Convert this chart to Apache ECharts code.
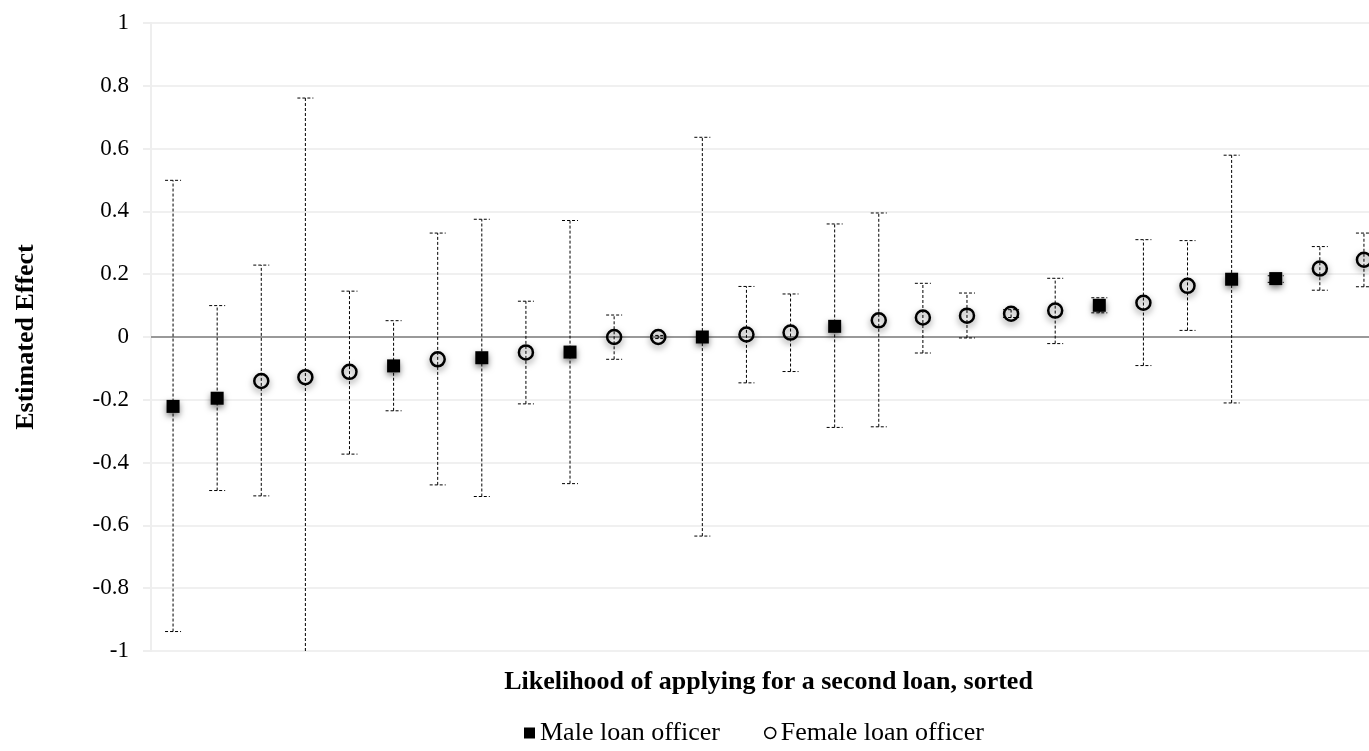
<!DOCTYPE html>
<html>
<head>
<meta charset="utf-8">
<script src="https://cdn.jsdelivr.net/npm/echarts@6/dist/echarts.min.js"></script>
<style>
  html, body { margin: 0; padding: 0; background: #fff; }
  #chart { width: 1369px; height: 751px; }
</style>
</head>
<body>
<div id="chart"></div>
<script>
// Estimated effect per loan officer, sorted by the likelihood of applying for a second loan
const officers = ['M','M','F','F','F','M','F','M','F','M','F','F','M','F','F','M','F','F','F','F','F','M','F','F','M','M','F','F'];
const estimate = [-0.221,-0.195,-0.140,-0.128,-0.111,-0.092,-0.071,-0.066,-0.049,-0.048,0.000,0.000,0.000,0.008,0.014,0.034,0.053,0.062,0.068,0.074,0.084,0.101,0.109,0.163,0.184,0.186,0.218,0.246];
const upper    = [0.499,0.100,0.229,0.761,0.146,0.052,0.331,0.375,0.114,0.371,0.070,0.005,0.636,0.161,0.137,0.360,0.395,0.171,0.140,0.087,0.187,0.125,0.310,0.307,0.579,0.195,0.288,0.331];
const lower    = [-0.938,-0.489,-0.506,-1.050,-0.373,-0.235,-0.471,-0.508,-0.213,-0.467,-0.071,-0.005,-0.634,-0.146,-0.110,-0.288,-0.286,-0.051,-0.003,0.062,-0.021,0.077,-0.091,0.021,-0.210,0.174,0.149,0.160];
const yTicks = { min: -1, max: 1, interval: 0.2 };

const categories = officers.map((_, i) => String(i + 1));
const maleData = [], femaleData = [], barData = [];
officers.forEach((o, i) => {
  if (o === 'M') maleData.push([i, estimate[i]]); else femaleData.push([i, estimate[i]]);
  barData.push([i, lower[i], upper[i]]);
});

const serif = '"Liberation Serif", "Times New Roman", serif';
const chart = echarts.init(document.getElementById('chart'), null, { renderer: 'canvas' });

const dashStyle = { stroke: '#000', lineWidth: 1, lineDash: [3, 2] };

chart.setOption({
  animation: false,
  backgroundColor: '#fff',
  grid: { left: 151, right: -17, top: 23, bottom: 100, containLabel: false, outerBoundsMode: 'none' },
  legend: {
    bottom: 0,
    left: 519,
    itemGap: 44,
    itemWidth: 11,
    itemHeight: 11,
    textStyle: { fontFamily: serif, fontSize: 26, color: '#000' },
    data: [
      { name: 'Male loan officer', icon: 'rect', itemStyle: { color: '#000', opacity: 1, borderWidth: 0, shadowBlur: 0 } },
      { name: 'Female loan officer', icon: 'circle', itemStyle: { color: '#fff', opacity: 1, borderColor: '#000', borderWidth: 1.5, shadowBlur: 0 } }
    ]
  },
  xAxis: {
    type: 'category',
    data: categories,
    boundaryGap: true,
    name: 'Likelihood of applying for a second loan, sorted',
    nameLocation: 'middle',
    nameGap: 18,
    nameTextStyle: { fontFamily: serif, fontSize: 26, fontWeight: 'bold', color: '#000', verticalAlign: 'top' },
    axisLine: { show: true, onZero: true, lineStyle: { color: '#999', width: 2 } },
    axisTick: { show: false },
    axisLabel: { show: false },
    splitLine: { show: false }
  },
  yAxis: {
    type: 'value',
    min: yTicks.min,
    max: yTicks.max,
    interval: yTicks.interval,
    name: 'Estimated Effect',
    nameLocation: 'middle',
    nameGap: 112,
    nameRotate: 90,
    nameTextStyle: { fontFamily: serif, fontSize: 26, fontWeight: 'bold', color: '#000' },
    axisLine: { show: true, lineStyle: { color: '#eeeeee', width: 2 } },
    axisTick: { show: true, length: 8, lineStyle: { color: '#eeeeee', width: 2 } },
    axisLabel: {
      margin: 22,
      fontFamily: serif, fontSize: 23, color: '#000',
      formatter: v => (Math.abs(v) < 1e-9 ? '0' : String(Math.round(v * 10) / 10))
    },
    splitLine: { show: true, lineStyle: { color: '#f0f0f0', width: 2 } }
  },
  series: [
    {
      type: 'custom',
      name: 'CI',
      z: 1,
      silent: true,
      data: barData,
      renderItem: function (params, api) {
        const x = api.value(0);
        const lo = api.value(1), hi = api.value(2);
        const loC = Math.max(lo, yTicks.min), hiC = Math.min(hi, yTicks.max);
        const pLo = api.coord([x, loC]);
        const pHi = api.coord([x, hiC]);
        const half = 8;
        const children = [
          { type: 'line', shape: { x1: pLo[0], y1: pLo[1], x2: pHi[0], y2: pHi[1] }, style: dashStyle }
        ];
        if (hi <= yTicks.max) children.push({ type: 'line', shape: { x1: pHi[0] - half, y1: pHi[1], x2: pHi[0] + half, y2: pHi[1] }, style: dashStyle });
        if (lo >= yTicks.min) children.push({ type: 'line', shape: { x1: pLo[0] - half, y1: pLo[1], x2: pLo[0] + half, y2: pLo[1] }, style: dashStyle });
        return { type: 'group', children: children };
      }
    },
    {
      type: 'scatter',
      name: 'Male loan officer',
      z: 3,
      symbol: 'rect',
      symbolSize: 13,
      data: maleData,
      itemStyle: { color: '#000', opacity: 1, shadowBlur: 6, shadowColor: 'rgba(0,0,0,0.5)', shadowOffsetY: 3 }
    },
    {
      type: 'scatter',
      name: 'Female loan officer',
      z: 3,
      symbol: 'circle',
      symbolSize: 14,
      data: femaleData,
      itemStyle: { color: 'rgba(255,255,255,0)', opacity: 1, borderColor: '#000', borderWidth: 2.5, shadowBlur: 6, shadowColor: 'rgba(0,0,0,0.5)', shadowOffsetY: 3 }
    }
  ]
});
</script>
</body>
</html>
